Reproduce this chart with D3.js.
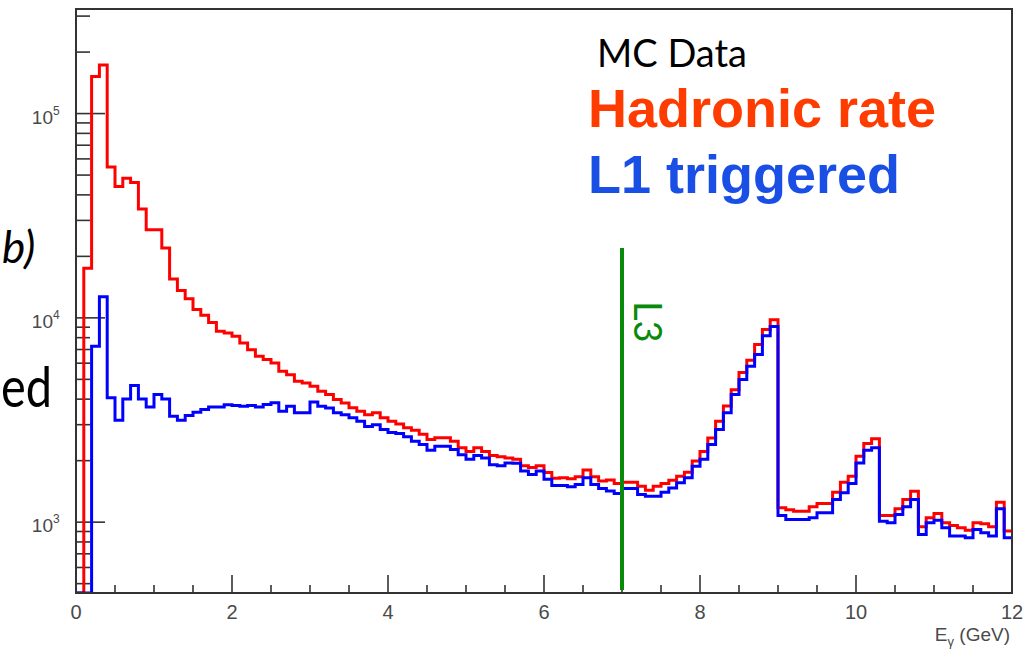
<!DOCTYPE html>
<html>
<head>
<meta charset="utf-8">
<script src="https://cdn.jsdelivr.net/npm/d3@7"></script>
<style>
  html, body { margin: 0; padding: 0; background: #fff; }
  svg { display: block; }
</style>
</head>
<body>
<svg id="chart" width="1027" height="650"></svg>
<script>
// ---- data ----
const binWidth = 0.1;               // GeV
const xRange = [0, 12];
// Hadronic rate (red), 120 bins of 0.1 GeV from 0 to 12 GeV
const hadronic = [
  0, 17500, 152000, 173000, 54700, 44000, 48300, 46000, 34100, 27000,
  27000, 22000, 15500, 13600, 12400, 11000, 10300, 9500, 8600, 8440,
  8130, 7530, 6990, 6490, 6250, 6020, 5480, 5270, 4890, 4800,
  4620, 4370, 4210, 3980, 3830, 3630, 3490, 3360, 3430, 3240,
  3120, 3020, 2900, 2820, 2690, 2540, 2590, 2590, 2490, 2310,
  2220, 2310, 2220, 2120, 2090, 2060, 2030, 1890, 1850, 1890,
  1750, 1640, 1650, 1630, 1670, 1800, 1670, 1590, 1610, 1545,
  1570, 1570, 1500, 1433, 1500, 1545, 1605, 1680, 1755, 1990,
  2220, 2580, 3120, 3700, 4450, 5400, 6200, 7400, 8760, 9800,
  1176, 1150, 1130, 1130, 1190, 1234, 1234, 1400, 1570, 1680,
  2100, 2430, 2560, 1079, 1079, 1162, 1291, 1418, 949, 1050,
  1103, 993, 963, 939, 914, 993, 982, 949, 1253, 904
];
// L1 triggered (blue)
const l1 = [
  0, 0, 7260, 12700, 4060, 3150, 4010, 4660, 4010, 3660,
  4210, 4010, 3300, 3150, 3330, 3450, 3560, 3660, 3660, 3760,
  3720, 3690, 3720, 3660, 3770, 3840, 3490, 3690, 3430, 3430,
  3870, 3690, 3620, 3430, 3360, 3240, 3120, 2940, 3000, 2840,
  2750, 2720, 2620, 2490, 2400, 2250, 2350, 2350, 2270, 2140,
  2030, 2120, 2060, 1910, 1890, 1950, 1940, 1780, 1710, 1780,
  1620, 1510, 1510, 1490, 1530, 1650, 1530, 1460, 1420, 1380,
  1460, 1460, 1365, 1340, 1340, 1400, 1470, 1560, 1650, 1880,
  2030, 2400, 2840, 3430, 4210, 4990, 5800, 6610, 8180, 9080,
  1079, 1030, 1030, 1030, 1050, 1112, 1112, 1291, 1393, 1545,
  1950, 2250, 2310, 1011, 993, 1090, 1190, 1291, 871, 993,
  1022, 939, 855, 855, 839, 921, 887, 855, 1162, 839
];
const xTickMajor = [0, 2, 4, 6, 8, 10, 12];
const yTickMajor = [1e3, 1e4, 1e5];
const yExponents = ["3", "4", "5"];
const yDomain = [450, 3.25e5];
const cutLine = 7;   // L3 cut position (GeV)

// ---- layout ----
const svg = d3.select("#chart");
const L = 76, R = 1012, T = 9, B = 593;
const x = d3.scaleLinear().domain(xRange).range([L, R]);
const y = d3.scaleLog().domain(yDomain).range([B, T]);

svg.append("rect").attr("width", 1027).attr("height", 650).attr("fill", "#fff");

svg.append("defs").append("clipPath").attr("id", "plotclip")
  .append("rect").attr("x", L).attr("y", T).attr("width", R - L).attr("height", B - T);

// minor y ticks
const yMinor = [];
[100, 1000, 10000, 100000].forEach(d => {
  for (let k = 2; k <= 9; k++) {
    const v = d * k;
    if (v > yDomain[0] && v < yDomain[1] && !yTickMajor.includes(v)) yMinor.push(v);
  }
});
const xMinor = d3.range(0, 12.01, 0.5).filter(v => !xTickMajor.includes(v));

const axisCol = "#333";
const gAx = svg.append("g");
gAx.selectAll("line.ymin").data(yMinor).enter().append("line")
  .attr("x1", L).attr("x2", L + 14).attr("y1", d => y(d)).attr("y2", d => y(d))
  .attr("stroke", axisCol).attr("stroke-width", 1.6);
gAx.selectAll("line.ymaj").data(yTickMajor).enter().append("line")
  .attr("x1", L).attr("x2", L + 29).attr("y1", d => y(d)).attr("y2", d => y(d))
  .attr("stroke", axisCol).attr("stroke-width", 1.6);
gAx.selectAll("line.xmin").data(xMinor).enter().append("line")
  .attr("x1", d => x(d)).attr("x2", d => x(d)).attr("y1", B).attr("y2", B - 8)
  .attr("stroke", axisCol).attr("stroke-width", 1.6);
gAx.selectAll("line.xmaj").data(xTickMajor).enter().append("line")
  .attr("x1", d => x(d)).attr("x2", d => x(d)).attr("y1", B).attr("y2", B - 18)
  .attr("stroke", axisCol).attr("stroke-width", 1.6);

// histograms
function histPath(vals) {
  const yb = v => (v > yDomain[0] ? y(v) : B);
  let p = "M" + x(0) + "," + yb(vals[0]);
  vals.forEach((v, i) => {
    if (i > 0) p += "V" + yb(v);
    p += "H" + x((i + 1) * binWidth);
  });
  return p;
}
const gH = svg.append("g").attr("clip-path", "url(#plotclip)");
gH.append("path").attr("d", histPath(hadronic)).attr("fill", "none")
  .attr("stroke", "#ff0000").attr("stroke-width", 3);
gH.append("path").attr("d", histPath(l1)).attr("fill", "none")
  .attr("stroke", "#0000ff").attr("stroke-width", 3);

// frame
svg.append("rect").attr("x", L).attr("y", T).attr("width", R - L).attr("height", B - T)
  .attr("fill", "none").attr("stroke", axisCol).attr("stroke-width", 2);

// tick labels
const lblCol = "#4a4a4a";
svg.selectAll("text.xl").data(xTickMajor).enter().append("text")
  .attr("x", d => x(d)).attr("y", 619).attr("text-anchor", "middle")
  .attr("font-family", "Liberation Sans, Arial, sans-serif").attr("font-size", 20)
  .attr("fill", lblCol).text(d => d);
yTickMajor.forEach((v, i) => {
  svg.append("text").attr("x", 53).attr("y", y(v) + 10).attr("text-anchor", "end")
    .attr("font-family", "Liberation Sans, Arial, sans-serif").attr("font-size", 19)
    .attr("fill", lblCol).text("10");
  svg.append("text").attr("x", 53).attr("y", y(v) + 1).attr("text-anchor", "start")
    .attr("font-family", "Liberation Sans, Arial, sans-serif").attr("font-size", 12)
    .attr("fill", lblCol).text(yExponents[i]);
});

// x axis title
const xt = svg.append("text").attr("x", 1010).attr("y", 641).attr("text-anchor", "end")
  .attr("font-family", "Liberation Sans, Arial, sans-serif").attr("font-size", 19).attr("fill", lblCol);
xt.append("tspan").text("E");
xt.append("tspan").attr("font-size", 13).attr("dy", 5).text("γ");
xt.append("tspan").attr("dy", -5).text(" (GeV)");

// L3 cut line
const green = "#0a8a0a";
svg.append("line").attr("x1", x(cutLine)).attr("x2", x(cutLine)).attr("y1", 248).attr("y2", 590)
  .attr("stroke", green).attr("stroke-width", 4);
svg.append("text").attr("transform", "translate(634,301) rotate(90)")
  .attr("font-family", "Lato, Open Sans, sans-serif").attr("font-size", 38)
  .attr("fill", green).text("L3");

// legend texts
svg.append("text").attr("x", 597).attr("y", 67)
  .attr("font-family", "Lato, Open Sans, sans-serif").attr("font-size", 38)
  .attr("fill", "#000").text("MC Data");
svg.append("text").attr("x", 588).attr("y", 127)
  .attr("font-family", "Liberation Sans, Arial, sans-serif").attr("font-weight", "bold")
  .attr("font-size", 54).attr("fill", "#ff3c00").text("Hadronic rate");
svg.append("text").attr("x", 588).attr("y", 193)
  .attr("font-family", "Liberation Sans, Arial, sans-serif").attr("font-weight", "bold")
  .attr("font-size", 54).attr("fill", "#1a4fe6").text("L1 triggered");

// partially visible slide texts at the left edge (only the visible part is kept)
svg.append("text").attr("x", 2).attr("y", 263)
  .attr("font-family", "Lato, Open Sans, sans-serif").attr("font-style", "italic")
  .attr("font-size", 44).attr("fill", "#000").text("b)");
svg.append("text").attr("x", 1).attr("y", 407)
  .attr("font-family", "Lato, Open Sans, sans-serif")
  .attr("font-size", 56).attr("textLength", 51).attr("lengthAdjust", "spacingAndGlyphs")
  .attr("fill", "#000").text("ed");
</script>
</body>
</html>
